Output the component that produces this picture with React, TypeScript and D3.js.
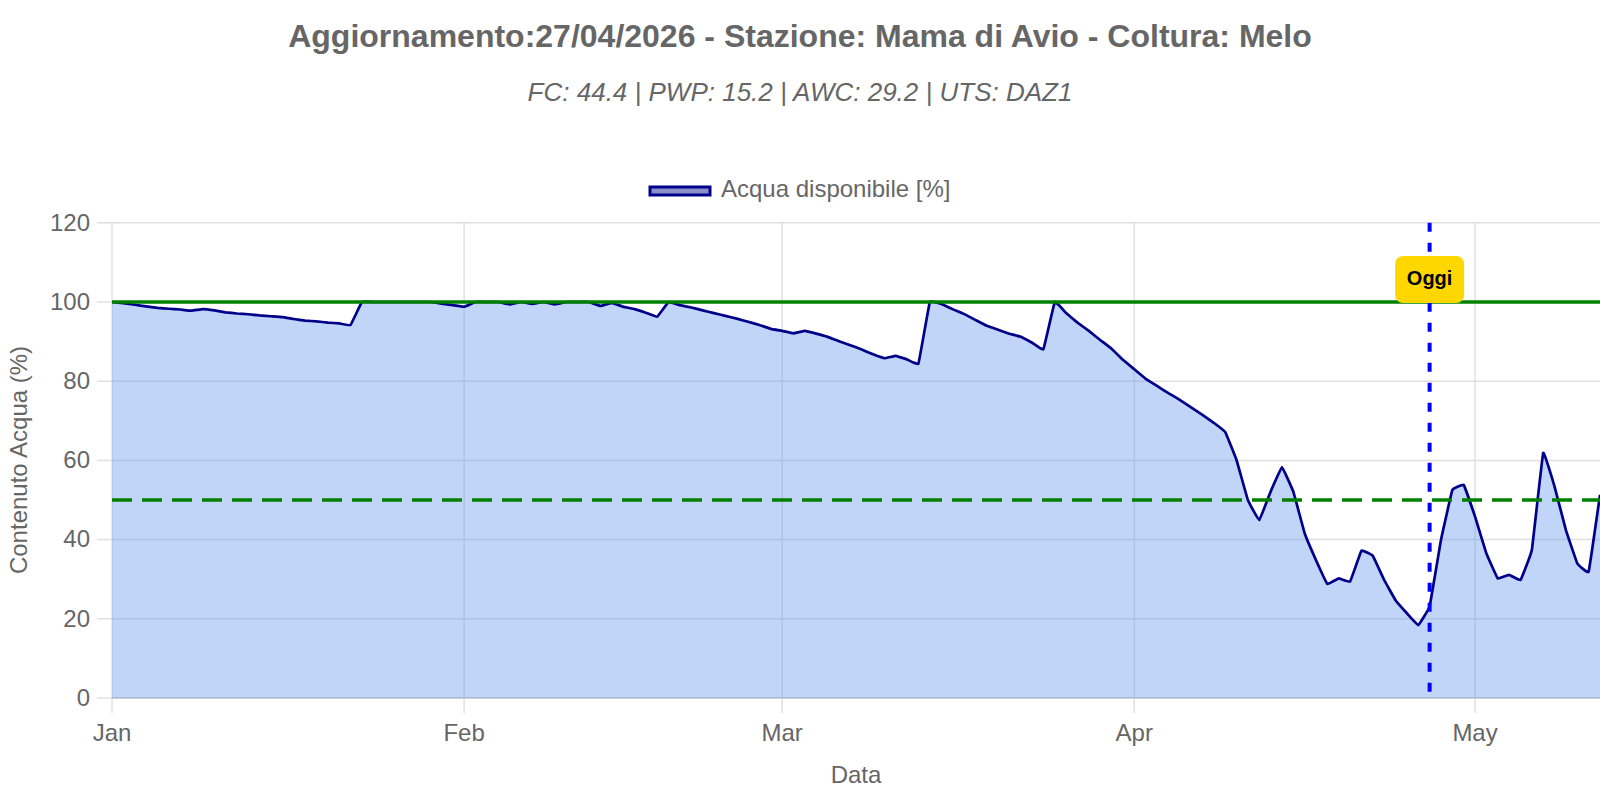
import React from "react";
import * as d3 from "d3";

// valori giornalieri dal 1 gennaio 2026 (Acqua disponibile %)
const startDate = Date.UTC(2026, 0, 1);
const acqua = [
  100, 99.7, 99.3, 98.9, 98.5, 98.3, 98.1, 97.8, 98.2, 97.9, 97.4, 97.1, 96.9, 96.6, 96.4, 96.2,
  95.7, 95.3, 95.1, 94.8, 94.6, 94.2, 100, 100, 100, 100, 100, 100, 100, 99.6, 99.2, 98.8,
  100, 100, 100, 99.4, 100, 99.5, 100, 99.4, 100, 100, 100, 99.0, 99.8, 98.8, 98.2, 97.3,
  96.3, 100, 99.2, 98.6, 97.9, 97.2, 96.5, 95.8, 95.0, 94.2, 93.2, 92.7, 92.1, 92.7, 92.0,
  91.2, 90.1, 89.1, 88.0, 86.8, 85.8, 86.4, 85.5, 84.5, 100, 99.5, 98.2, 97.0, 95.5, 94.0,
  93.0, 92.0, 91.2, 89.7, 88.1, 100, 97.2, 94.8, 92.7, 90.4, 88.2, 85.4, 83.0, 80.6, 78.8,
  77.0, 75.3, 73.4, 71.5, 69.5, 67.2, 60.1, 50, 44.9, 52.1, 58.3, 52.1, 41.6, 34.8, 28.8,
  30.2, 29.4, 37.2, 35.9, 29.8, 24.7, 21.4, 18.4, 23.1, 39.9, 52.5, 53.8, 45.8, 36.5, 30.2,
  31.1, 29.8, 37.4, 61.9, 53.4, 42.4, 34, 31.9, 51.3,
];
const monthLabels = ["Jan", "Feb", "Mar", "Apr", "May"];
const yTicks = [0, 20, 40, 60, 80, 100, 120];
const soglie = [100, 50]; // capacità di campo / soglia
const oggi = Date.UTC(2026, 3, 27);

const title = "Aggiornamento:27/04/2026 - Stazione: Mama di Avio - Coltura: Melo";
const subtitle = "FC: 44.4 | PWP: 15.2 | AWC: 29.2 | UTS: DAZ1";

const W = 1600;
const H = 800;
const margin = { top: 222.8, right: 0, bottom: 102, left: 112 };
const font = "'Liberation Sans', Arial, sans-serif";

export default function App() {
  const day = 24 * 3600 * 1000;
  const data = acqua.map((v, i) => ({ date: new Date(startDate + i * day), v }));

  const x = d3
    .scaleUtc()
    .domain([new Date(startDate), new Date(startDate + 131 * day)])
    .range([margin.left, W - margin.right]);
  const y = d3.scaleLinear().domain([0, 120]).range([H - margin.bottom, margin.top]);

  const curve = d3.curveCardinal.tension(0.8);
  const line = d3
    .line<{ date: Date; v: number }>()
    .x((d) => x(d.date))
    .y((d) => y(d.v))
    .curve(curve);
  const area = d3
    .area<{ date: Date; v: number }>()
    .x((d) => x(d.date))
    .y0(y(0))
    .y1((d) => y(d.v))
    .curve(curve);

  const months = monthLabels.map((m, i) => ({ m, d: new Date(Date.UTC(2026, i, 1)) }));
  const x0 = margin.left;
  const x1 = W - margin.right;
  const yBottom = y(0);
  const yTop = y(120);
  const ox = x(new Date(oggi));

  return (
    <svg
      width={W}
      height={H}
      style={{ position: "absolute", left: 0, top: 0, background: "#fff" }}
      fontFamily={font}
    >
      <text x={800} y={39} textAnchor="middle" dominantBaseline="middle" fontSize={32} fontWeight="bold" fill="#666">
        {title}
      </text>
      <text x={800} y={94} textAnchor="middle" dominantBaseline="middle" fontSize={26} fontStyle="italic" fill="#666">
        {subtitle}
      </text>

      {/* legenda */}
      <rect x={650} y={187} width={60} height={8} fill="#8a8fcc" stroke="#00008b" strokeWidth={3} />
      <text x={721} y={191} dominantBaseline="middle" fontSize={24} fill="#666">
        Acqua disponibile [%]
      </text>

      {/* griglia */}
      {yTicks.map((t) => (
        <g key={t}>
          <line x1={x0 - 15} x2={x1} y1={y(t)} y2={y(t)} stroke="#e0e0e0" strokeWidth={1.5} />
          <text x={90} y={y(t) + 1.5} textAnchor="end" dominantBaseline="middle" fontSize={24} fill="#666">
            {t}
          </text>
        </g>
      ))}
      {months.map(({ m, d }) => (
        <g key={m}>
          <line x1={x(d)} x2={x(d)} y1={yTop} y2={yBottom + 15} stroke="#e0e0e0" strokeWidth={1.5} />
          <text x={x(d)} y={735} textAnchor="middle" dominantBaseline="middle" fontSize={24} fill="#666">
            {m}
          </text>
        </g>
      ))}
      <line x1={x0} x2={x1} y1={yBottom} y2={yBottom} stroke="#c8c8c8" strokeWidth={1.5} />

      {/* serie */}
      <path d={area(data) ?? ""} fill="rgba(100,149,237,0.4)" />
      <path d={line(data) ?? ""} fill="none" stroke="#00008b" strokeWidth={2.7} strokeLinejoin="round" />

      {/* soglie */}
      <line x1={x0} x2={x1} y1={y(soglie[0])} y2={y(soglie[0])} stroke="#008000" strokeWidth={3.5} />
      <line
        x1={x0}
        x2={x1}
        y1={y(soglie[1])}
        y2={y(soglie[1])}
        stroke="#008000"
        strokeWidth={3.5}
        strokeDasharray="20 10"
      />

      {/* oggi */}
      <line x1={ox} x2={ox} y1={yTop} y2={yBottom} stroke="#0000ff" strokeWidth={4} strokeDasharray="9 11" />
      <rect x={ox - 34.5} y={256} width={69} height={47} rx={8} fill="#ffd700" />
      <text x={ox} y={280} textAnchor="middle" dominantBaseline="middle" fontSize={20} fontWeight="bold" fill="#000">
        Oggi
      </text>

      {/* titoli assi */}
      <text
        transform={`translate(21,460) rotate(-90)`}
        textAnchor="middle"
        dominantBaseline="middle"
        fontSize={24}
        fill="#666"
      >
        Contenuto Acqua (%)
      </text>
      <text x={856} y={777} textAnchor="middle" dominantBaseline="middle" fontSize={24} fill="#666">
        Data
      </text>
    </svg>
  );
}
